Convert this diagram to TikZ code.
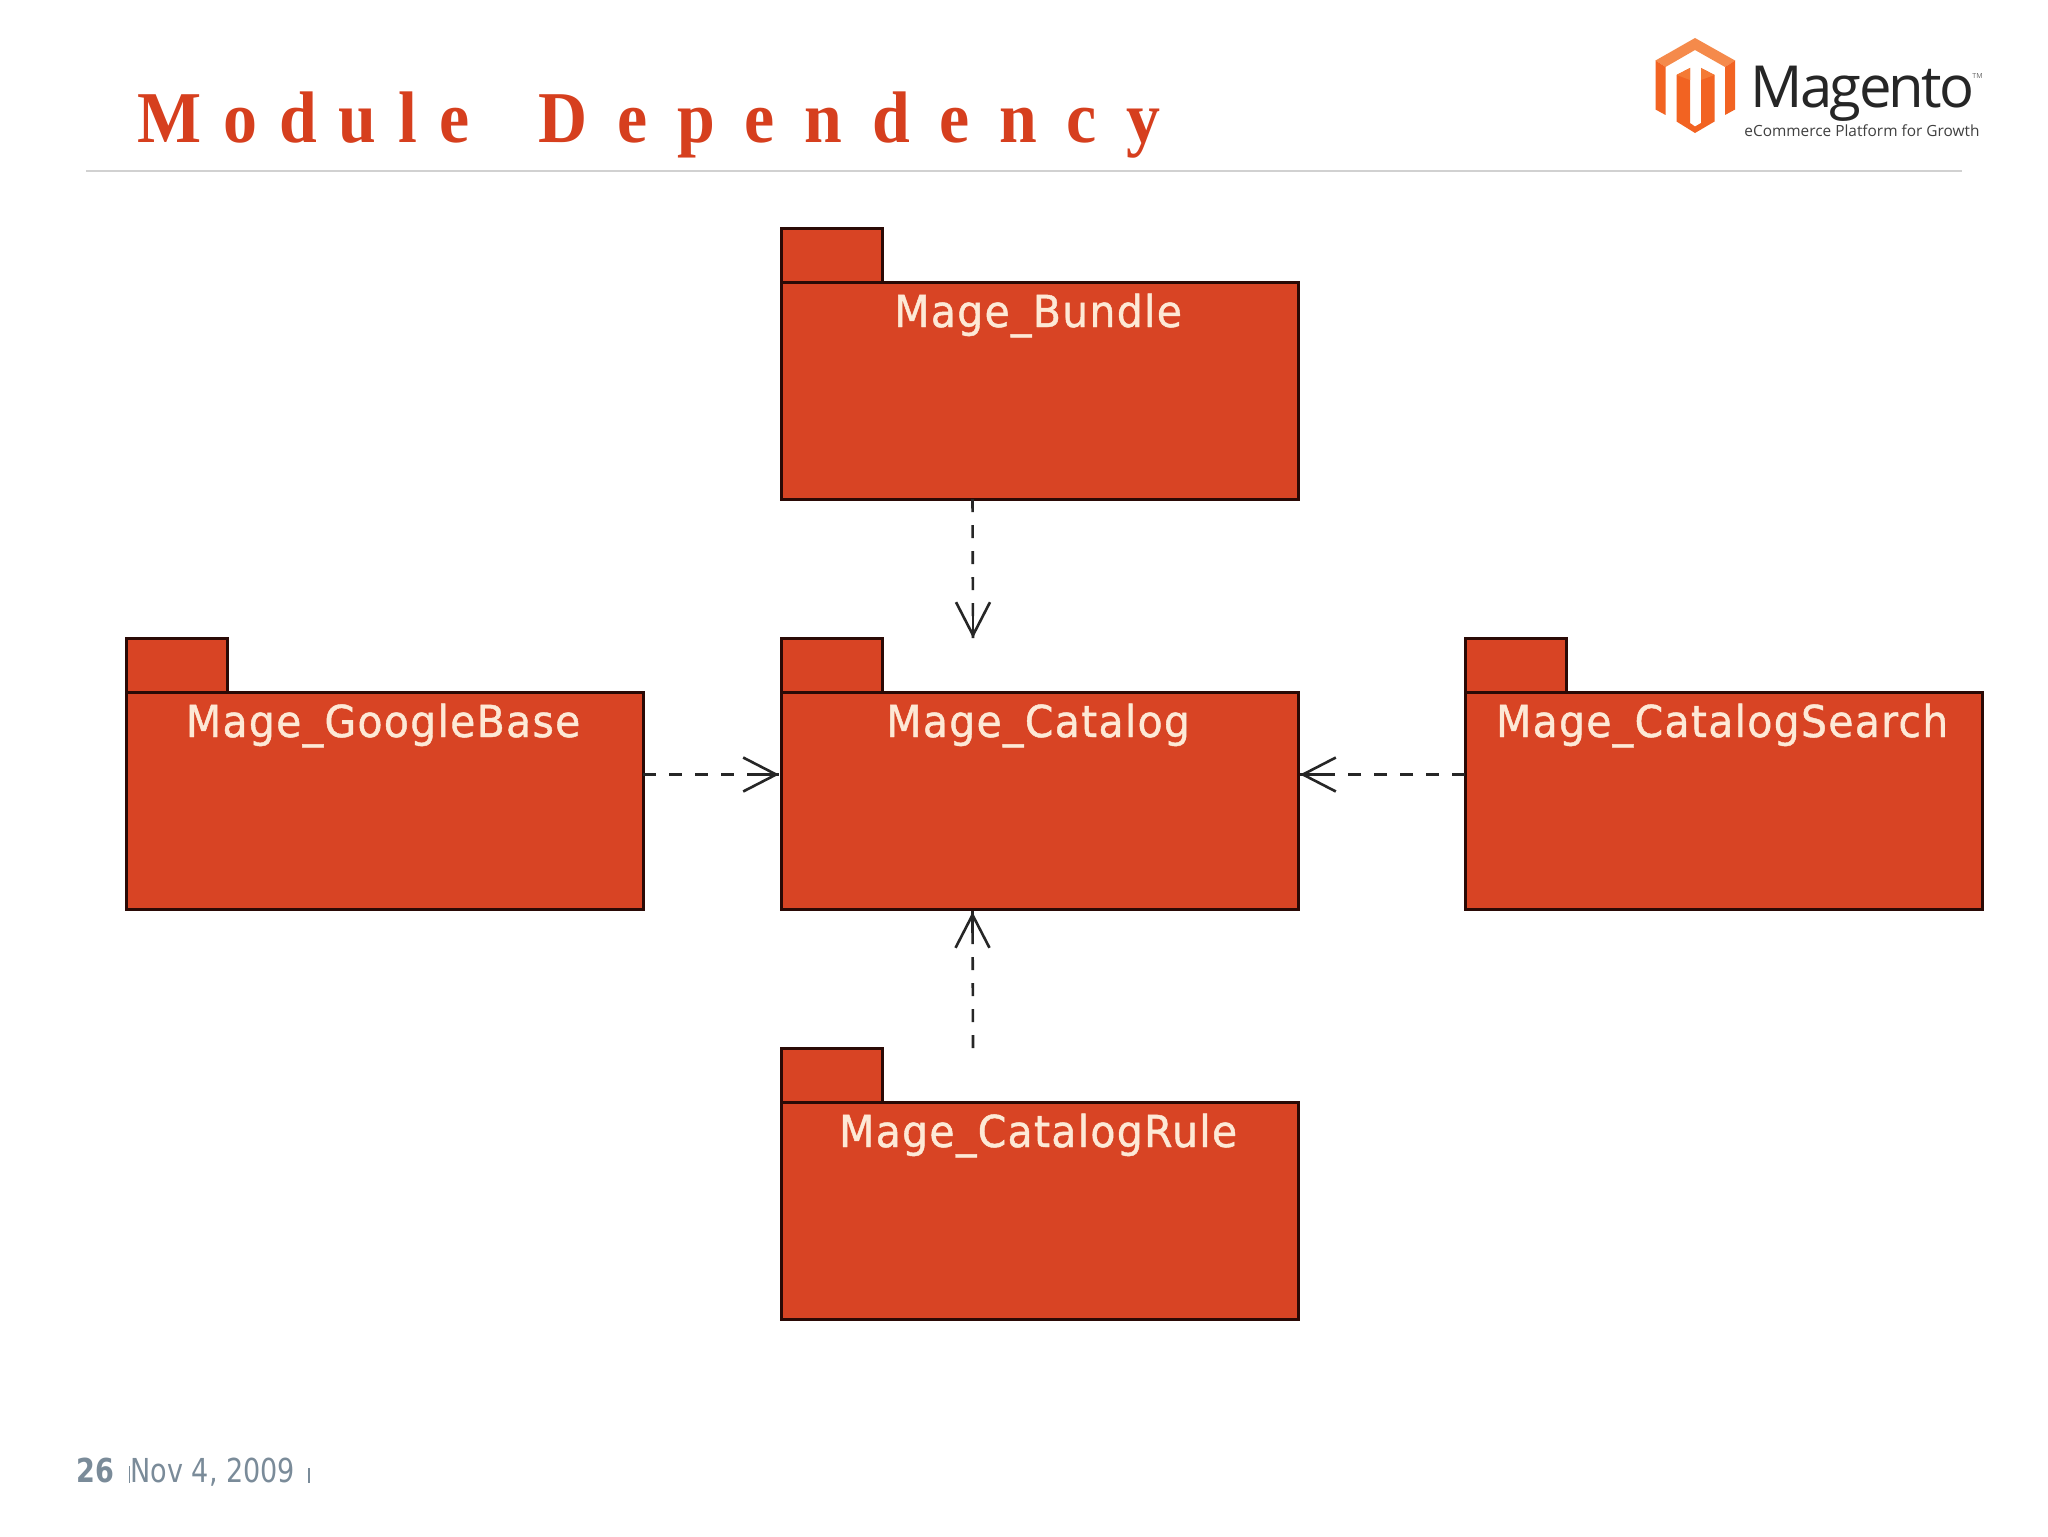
\documentclass[tikz,border=0pt]{standalone}
\usepackage{fontspec}
\usetikzlibrary{arrows.meta,calc}
\newfontfamily\pkgfont[FakeStretch=0.93,LetterSpace=3,FakeBold=1]{DejaVu Sans}
\newfontfamily\titlefontA[FakeStretch=0.93,LetterSpace=30]{Liberation Serif}
\newfontfamily\titlefontB[FakeStretch=0.93,LetterSpace=40.7]{Liberation Serif}
\newfontfamily\logofont[LetterSpace=-4.5]{Open Sans}
\newfontfamily\subfont{Open Sans}
\newfontfamily\footfont[FakeStretch=0.82]{DejaVu Sans}
\definecolor{pkgred}{HTML}{D84424}
\definecolor{pkgline}{HTML}{2A0A06}
\definecolor{titlered}{HTML}{D63F1E}
\definecolor{pkgtext}{HTML}{FDE9D6}
\definecolor{footgrey}{HTML}{7A8B99}
\definecolor{logoA}{HTML}{F26322}
\definecolor{logoB}{HTML}{F58A4B}
\definecolor{logoC}{HTML}{F47A35}
\tikzset{
  x=0.5pt,y=-0.5pt,
  pkgbody/.style={draw=pkgline,fill=pkgred,line width=1.5pt,anchor=north west,inner sep=0pt,outer sep=0pt,minimum width=258.5pt,minimum height=108.5pt},
  pkgtab/.style={draw=pkgline,fill=pkgred,line width=1.5pt,anchor=south west,inner sep=0pt,outer sep=0pt,minimum width=50.5pt,minimum height=27pt},
  pkglabel/.style={text=pkgtext,font=\pkgfont\fontsize{22}{26}\selectfont,anchor=base,inner sep=0pt},
  depend/.style={draw=black!85,line width=1.3pt,dash pattern=on 6.5pt off 6.5pt,shorten >=1pt},
  barb/.style={-{Straight Barb[length=16.5pt,width=17pt,line width=1.3pt]},draw=black!85,line width=1.3pt},
}
\newcommand{\package}[4]{% name, x, y of body top, label
  \node[pkgbody] (#1) at (#2,#3) {};
  \node[pkgtab] (#1tab) at (#1.north west) {};
  \node[pkglabel] (#1label) at ($(#1.north)+(-0.7pt,-22.5pt)$) {#4};
}
\begin{document}
\begin{tikzpicture}
\useasboundingbox[fill=white] (0,0) rectangle (2048,1536);

% title and rule
\node[anchor=base west,inner sep=0pt,text=titlered,font=\bfseries\fontsize{36.5}{40}\selectfont] (title) at (137,142) {{\titlefontA\bfseries Module} \hspace{21pt}{\titlefontB\bfseries Dependency}};
\coordinate (ruleL) at (86,170.5);
\coordinate (ruleR) at (1962,170.5);
\draw[black!18,line width=1pt] (ruleL) -- (ruleR);

% logo
\fill[logoB] (1695,38) -- (1735,60.5) -- (1725,67) -- (1695,50) -- (1665.5,67) -- (1655.5,60.5) -- cycle;
\fill[logoA] (1655.5,60.5) -- (1665.5,67) -- (1665.5,115) -- (1655.5,109.5) -- cycle;
\fill[logoA] (1735,60.5) -- (1725,67) -- (1725,115) -- (1735,109.5) -- cycle;
\fill[logoA] (1676.5,75) -- (1690,68) -- (1690,123) -- (1695,126.5) -- (1701,123) -- (1701,68) -- (1714.5,75) -- (1714.5,121.5) -- (1695,133) -- (1676.5,121.5) -- cycle;
\fill[logoC] (1690,68) -- (1690,80) -- (1676.5,75) -- cycle;
\fill[logoC] (1701,68) -- (1701,80) -- (1714.5,75) -- cycle;
\node[anchor=base west,inner sep=0pt,text=black!85,font=\logofont\fontsize{29}{32}\selectfont] (logoname) at (1750,107) {Magento};
\node[anchor=base west,inner sep=0pt,text=black!60,font=\subfont\fontsize{3.5}{4}\selectfont] (logotm) at (1972,79) {TM};
\node[anchor=base west,inner sep=0pt,text=black!75,font=\subfont\fontsize{7.7}{10}\selectfont] (logosub) at (1744,136) {eCommerce Platform for Growth};

% packages
\package{bundle}{781}{282}{Mage\_Bundle}
\package{google}{126}{692}{Mage\_GoogleBase}
\package{catalog}{781}{692}{Mage\_Catalog}
\package{search}{1465}{692}{Mage\_CatalogSearch}
\package{rule}{781}{1102}{Mage\_CatalogRule}

% dependencies
\draw[depend] ([xshift=-33.5pt]bundle.south) -- ($(catalog.north west)+(96pt,26pt)$);
\draw[barb] ($(catalog.north west)+(96pt,38pt)$) -- ($(catalog.north west)+(96pt,27pt)$);
\draw[depend] ([yshift=13pt]google.east) -- ([yshift=13pt]catalog.west);
\draw[barb] ($(catalog.west)+(-12pt,13pt)$) -- ($(catalog.west)+(-1pt,13pt)$);
\draw[depend] ([yshift=13pt]search.west) -- ([yshift=13pt]catalog.east);
\draw[barb] ($(catalog.east)+(12pt,13pt)$) -- ($(catalog.east)+(1pt,13pt)$);
\draw[depend] ($(ruletab.north west)+(96pt,0pt)$) -- ([xshift=-33.5pt]catalog.south);
\draw[barb] ($(catalog.south)+(-33.5pt,-12pt)$) -- ($(catalog.south)+(-33.5pt,-1.5pt)$);

% footer
\node[anchor=base west,inner sep=0pt,text=footgrey,font=\footfont\bfseries\fontsize{16.5}{20}\selectfont] (pagenum) at (76,1482) {26};
\node[anchor=base west,inner sep=0pt,text=footgrey,font=\footfont\fontsize{16.5}{20}\selectfont] (date) at (130,1482) {Nov 4, 2009};
\coordinate (barAt) at (129.5,1466);
\coordinate (barAb) at (129.5,1483);
\coordinate (barBt) at (309,1468);
\coordinate (barBb) at (309,1483);
\draw[footgrey,line width=0.6pt] (barAt) -- (barAb);
\draw[footgrey,line width=0.6pt] (barBt) -- (barBb);
\end{tikzpicture}
\end{document}
